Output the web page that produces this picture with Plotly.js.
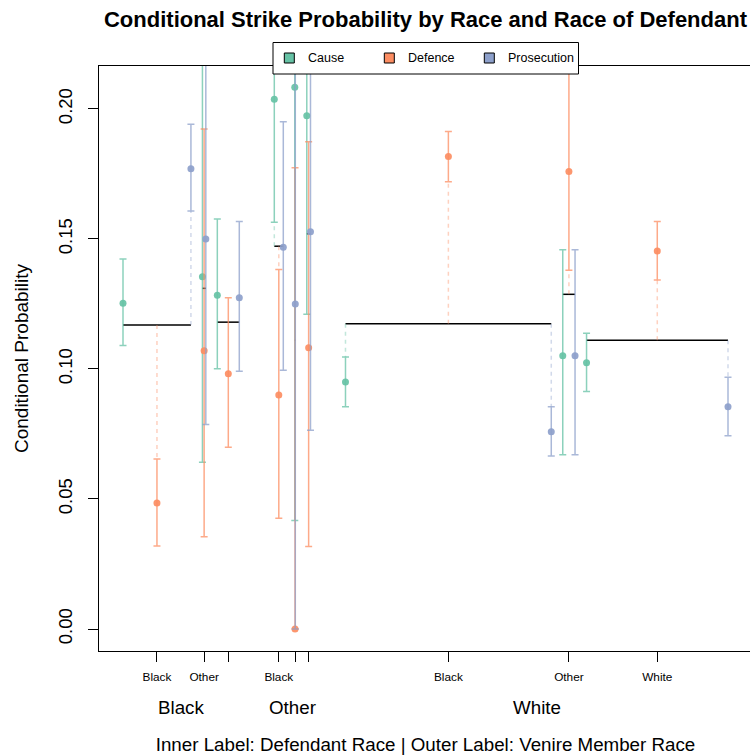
<!DOCTYPE html>
<html><head><meta charset="utf-8">
<script src="https://cdn.plot.ly/plotly-3.0.1.min.js"></script>
<style>html,body{margin:0;padding:0;overflow:hidden;background:#fff}#chart{width:754px;height:755px}</style>
</head><body><div id="chart"></div>
<script>
// ---- data (cells ordered: venire race outer x defendant race inner) ----
const venireRaces = ['Black', 'Other', 'White'];
const defendantRaces = ['Black', 'Other', 'White'];
const innerTickLabels = ['Black', 'Other', '', 'Black', '', '', 'Black', 'Other', 'White'];
const strikeTypes = ['Cause', 'Defence', 'Prosecution'];
const cellWeight = [68, 3.4, 22, 9, 0.5, 3.7, 206, 12.3, 141.6];
const baseline = [0.1169, 0.1310, 0.1180, 0.1472, 0.1110, 0.1520, 0.1174, 0.1287, 0.1110];

const causeP  = [0.1253, 0.1355, 0.1283, 0.2037, 0.2083, 0.1974, 0.0950, 0.1051, 0.1024];
const causeLo = [0.1090, 0.0641, 0.1001, 0.1564, 0.0417, 0.1210, 0.0855, 0.0670, 0.0913];
const causeHi = [0.1423, 0.3000, 0.1577, 0.2600, 0.4000, 0.2800, 0.1046, 0.1458, 0.1137];

const defP  = [0.0485, 0.1070, 0.0982, 0.0900, 0.0000, 0.1082, 0.1817, 0.1759, 0.1454];
const defLo = [0.0319, 0.0355, 0.0699, 0.0426, 0.0000, 0.0317, 0.1720, 0.1380, 0.1342];
const defHi = [0.0654, 0.1923, 0.1274, 0.1382, 0.1774, 0.1874, 0.1913, 0.2300, 0.1567];

const prosP  = [0.1770, 0.1500, 0.1274, 0.1468, 0.1250, 0.1528, 0.0759, 0.1051, 0.0855];
const prosLo = [0.1607, 0.0786, 0.0991, 0.0995, 0.0000, 0.0764, 0.0665, 0.0670, 0.0743];
const prosHi = [0.1941, 0.2500, 0.1567, 0.1951, 0.4500, 0.3000, 0.0855, 0.1458, 0.0968];

// ---- layout helpers ----
const colors = ['#66C2A5', '#FC8D62', '#8DA0CB'];
function rgba(hex, a) {
  const n = parseInt(hex.slice(1), 16);
  return 'rgba(' + (n >> 16) + ',' + ((n >> 8) & 255) + ',' + (n & 255) + ',' + a + ')';
}
const ML = 99, MT = 66, PLOT_W = 653, PLOT_H = 585;
const SIDE = 24, INNER_GAP = 11.5, OUTER_GAP = 35;
const totalW = cellWeight.reduce((a, b) => a + b, 0);
const avail = PLOT_W - 2 * SIDE - 6 * INNER_GAP - 2 * OUTER_GAP;
const k = avail / totalW;
const cellStart = [], cellEnd = [];
let cur = SIDE;
for (let i = 0; i < cellWeight.length; i++) {
  cellStart.push(cur);
  cur += cellWeight[i] * k;
  cellEnd.push(cur);
  cur += (i % 3 === 2) ? OUTER_GAP : INNER_GAP;
}
const cellMid = cellStart.map((s, i) => (s + cellEnd[i]) / 2);
const groupMid = venireRaces.map((_, g) => (cellStart[g * 3] + cellEnd[g * 3 + 2]) / 2);

const series = [
  {p: causeP, lo: causeLo, hi: causeHi, x: cellStart},
  {p: defP, lo: defLo, hi: defHi, x: cellMid},
  {p: prosP, lo: prosLo, hi: prosHi, x: cellEnd}
];

const traces = [];
// baseline segments
const bx = [], by = [];
baseline.forEach((b, i) => { bx.push(cellStart[i], cellEnd[i], null); by.push(b, b, null); });
traces.push({x: bx, y: by, mode: 'lines', line: {color: '#000', width: 1.5}, showlegend: false, hoverinfo: 'skip'});

// dashed connectors from baseline to CI edge
series.forEach((s, c) => {
  const dx = [], dy = [];
  baseline.forEach((b, i) => {
    if (b > s.hi[i]) { dx.push(s.x[i], s.x[i], null); dy.push(b, s.hi[i], null); }
    else if (b < s.lo[i]) { dx.push(s.x[i], s.x[i], null); dy.push(b, s.lo[i], null); }
  });
  traces.push({x: dx, y: dy, mode: 'lines', line: {color: rgba(colors[c], 0.4), width: 1.5, dash: '4px,4px'},
    showlegend: false, hoverinfo: 'skip'});
});

// points with confidence intervals
series.forEach((s, c) => {
  traces.push({
    x: s.x, y: s.p, mode: 'markers', name: strikeTypes[c], showlegend: false,
    marker: {color: rgba(colors[c], 0.92), size: 7},
    error_y: {type: 'data', symmetric: false,
      array: s.p.map((v, i) => s.hi[i] - v),
      arrayminus: s.p.map((v, i) => v - s.lo[i]),
      color: rgba(colors[c], 0.75), thickness: 1.5, width: 3.5}
  });
});

const FONT = 'Liberation Sans, Arial, Helvetica, sans-serif';
const px = v => (v - ML) / PLOT_W;           // pixel x -> paper
const py = v => (MT + PLOT_H - v) / PLOT_H;  // pixel y -> paper

const annotations = venireRaces.map((r, g) => ({
  x: groupMid[g], xref: 'x', y: py(707), yref: 'paper', yanchor: 'middle',
  text: r, showarrow: false, font: {family: FONT, size: 18.75, color: '#000'}
}));

// legend box (drawn as shapes + text)
const shapes = [{type: 'rect', xref: 'paper', yref: 'paper', x0: px(273), x1: px(578.5), y0: py(42.5), y1: py(74),
  fillcolor: '#fff', line: {color: '#000', width: 1}, layer: 'above'}];
strikeTypes.forEach((name, c) => {
  const cx = 289.3 + 100 * c;
  shapes.push({type: 'rect', xref: 'paper', yref: 'paper', x0: px(cx - 5), x1: px(cx + 5), y0: py(53), y1: py(63),
    fillcolor: colors[c], line: {color: '#000', width: 1}, layer: 'above'});
  annotations.push({x: px(cx + 16.7), xref: 'paper', xanchor: 'left', y: py(58.3), yref: 'paper', yanchor: 'middle',
    text: name, showarrow: false, font: {family: FONT, size: 12.5, color: '#000'}});
});

const layout = {
  width: 754, height: 755,
  margin: {l: ML, r: 2, t: MT, b: 104},
  paper_bgcolor: '#fff', plot_bgcolor: '#fff',
  font: {family: FONT, color: '#000'},
  showlegend: false,
  title: {text: 'Conditional Strike Probability by Race and Race of Defendant',
    font: {family: FONT, size: 22, weight: 'bold', color: '#000'},
    x: 0.5, xref: 'paper', xanchor: 'center', y: 1 - 19.5 / 755, yref: 'container', yanchor: 'middle'},
  xaxis: {range: [0, PLOT_W], tickvals: cellMid, ticktext: innerTickLabels,
    showgrid: false, zeroline: false, showline: true, mirror: true, linecolor: '#000', linewidth: 1,
    ticks: 'outside', ticklen: 10, tickcolor: '#000', tickfont: {family: FONT, size: 11.8},
    ticklabelstandoff: 5,
    title: {text: 'Inner Label: Defendant Race | Outer Label: Venire Member Race',
      font: {family: FONT, size: 18.75}, standoff: 55}},
  yaxis: {range: [-0.00846, 0.2165], tickvals: [0, 0.05, 0.1, 0.15, 0.2], tickformat: '.2f',
    tickangle: -90, showgrid: false, zeroline: false, showline: true, linecolor: '#000', linewidth: 1,
    ticks: 'outside', ticklen: 10, tickcolor: '#000', tickfont: {family: FONT, size: 18.5},
    ticklabelstandoff: 9,
    title: {text: 'Conditional Probability', font: {family: FONT, size: 19}, standoff: 20}},
  shapes: shapes,
  annotations: annotations
};

Plotly.newPlot('chart', traces, layout, {displayModeBar: false, staticPlot: true});
</script>
</body></html>
